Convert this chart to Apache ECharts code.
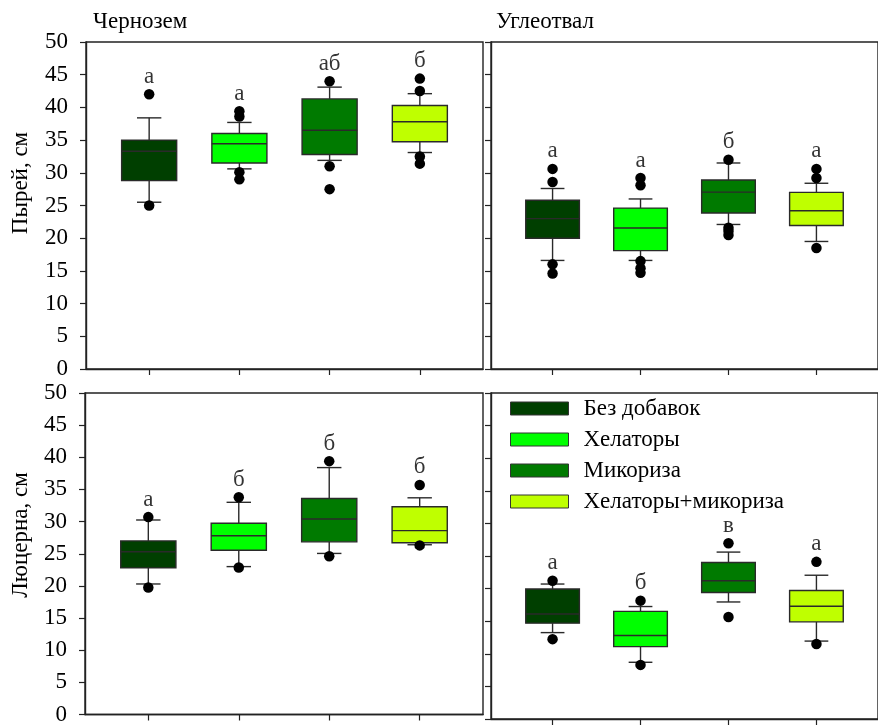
<!DOCTYPE html>
<html>
<head>
<meta charset="utf-8">
<script src="https://cdn.jsdelivr.net/npm/echarts@6/dist/echarts.min.js"></script>
<style>
html,body{margin:0;padding:0;background:#fff;}
#chart{width:878px;height:726px;}
</style>
</head>
<body>
<div id="chart"></div>
<script>
// ---- Data ----
const treatments = ['Без добавок', 'Хелаторы', 'Микориза', 'Хелаторы+микориза'];
const treatmentColors = ['#003f00', '#00ff00', '#007a00', '#bfff00'];
const xPositions = [1, 2, 3, 4];
const soilTitles = ['Чернозем', 'Углеотвал'];
const plantTitles = ['Пырей, см', 'Люцерна, см'];
const yTickMin = 0, yTickMax = 50, yTickStep = 5;

// box rows: [lower whisker, Q1, median, Q3, upper whisker]
const pyreyChernozemBoxes = [
  [25.5, 28.8, 33.3, 35.0, 38.4],
  [30.6, 31.5, 34.45, 36.0, 37.7],
  [31.9, 32.8, 36.5, 41.3, 43.1],
  [33.1, 34.75, 37.8, 40.3, 42.1]
];
const pyreyChernozemOutliers = [[42.0, 25.0], [39.4, 38.6, 30.1, 29.0], [44.0, 31.0, 27.5], [44.4, 42.5, 32.5, 31.4]];
const pyreyChernozemLetters = ['а', 'а', 'аб', 'б'];

const pyreyUgleotvalBoxes = [
  [16.6, 20.0, 23.0, 25.8, 27.6],
  [16.6, 18.1, 21.55, 24.6, 26.0],
  [22.1, 23.85, 27.05, 28.9, 31.5],
  [19.5, 21.95, 24.2, 27.0, 28.4]
];
const pyreyUgleotvalOutliers = [[30.6, 28.6, 16.0, 14.6], [29.2, 28.1, 16.5, 15.4, 14.7], [32.0, 21.6, 21.1, 20.5], [30.6, 29.2, 18.5]];
const pyreyUgleotvalLetters = ['а', 'а', 'б', 'а'];

const lyucernaChernozemBoxes = [
  [20.3, 22.8, 25.3, 27.0, 30.25],
  [23.0, 25.55, 27.8, 29.75, 33.0],
  [25.05, 26.85, 30.4, 33.6, 38.4],
  [26.4, 26.7, 28.6, 32.3, 33.7]
];
const lyucernaChernozemOutliers = [[30.7, 19.75], [33.8, 22.85], [39.4, 24.6], [35.7, 26.3]];
const lyucernaChernozemLetters = ['а', 'б', 'б', 'б'];

const lyucernaUgleotvalBoxes = [
  [13.25, 14.7, 16.1, 19.95, 20.7],
  [8.7, 11.1, 12.8, 16.5, 17.25],
  [17.95, 19.4, 21.2, 24.0, 25.6],
  [11.95, 14.9, 17.3, 19.7, 22.05]
];
const lyucernaUgleotvalOutliers = [[21.2, 12.25], [18.15, 8.3], [26.95, 15.65], [24.1, 11.5]];
const lyucernaUgleotvalLetters = ['а', 'б', 'в', 'а'];

// ---- Layout ----
const FONT = '"Liberation Serif", "Times New Roman", serif';
const FS = 23;
const panels = [
  {boxes: pyreyChernozemBoxes, outliers: pyreyChernozemOutliers, letters: pyreyChernozemLetters, grid: {left: 86, top: 42, width: 397, height: 327}, labels: true},
  {boxes: pyreyUgleotvalBoxes, outliers: pyreyUgleotvalOutliers, letters: pyreyUgleotvalLetters, grid: {left: 491, top: 42, width: 397, height: 327}, labels: false},
  {boxes: lyucernaChernozemBoxes, outliers: lyucernaChernozemOutliers, letters: lyucernaChernozemLetters, grid: {left: 85, top: 393, width: 398, height: 326}, labels: true},
  {boxes: lyucernaUgleotvalBoxes, outliers: lyucernaUgleotvalOutliers, letters: lyucernaUgleotvalLetters, grid: {left: 491, top: 393, width: 397, height: 326}, labels: false}
];

function renderBox(params, api) {
  const x = api.value(0);
  const lo = api.coord([x, api.value(1)]);
  const q1 = api.coord([x, api.value(2)]);
  const md = api.coord([x, api.value(3)]);
  const q3 = api.coord([x, api.value(4)]);
  const hi = api.coord([x, api.value(5)]);
  const bw = api.size([0.61, 0])[0];
  const cw = api.size([0.27, 0])[0];
  const cx = lo[0];
  const line = {stroke: '#2a2a2a', lineWidth: 1.4};
  const color = api.visual('color');
  return {
    type: 'group',
    children: [
      {type: 'line', shape: {x1: cx, y1: hi[1], x2: cx, y2: q3[1]}, style: line},
      {type: 'line', shape: {x1: cx, y1: q1[1], x2: cx, y2: lo[1]}, style: line},
      {type: 'line', shape: {x1: cx - cw / 2, y1: hi[1], x2: cx + cw / 2, y2: hi[1]}, style: line},
      {type: 'line', shape: {x1: cx - cw / 2, y1: lo[1], x2: cx + cw / 2, y2: lo[1]}, style: line},
      {type: 'rect', shape: {x: cx - bw / 2, y: q3[1], width: bw, height: q1[1] - q3[1]}, style: {fill: color, stroke: '#2a2a2a', lineWidth: 1.4}},
      {type: 'line', shape: {x1: cx - bw / 2, y1: md[1], x2: cx + bw / 2, y2: md[1]}, style: line}
    ]
  };
}

const grids = [], xAxes = [], yAxes = [], series = [];
panels.forEach((p, i) => {
  grids.push(Object.assign({show: true, borderColor: '#222', borderWidth: 1.4, backgroundColor: 'transparent'}, p.grid));
  xAxes.push({
    type: 'value', gridIndex: i, min: 0.3, max: 4.7,
    axisLine: {show: true, lineStyle: {color: '#222', width: 1.4}},
    axisTick: {show: true, customValues: xPositions, length: 6, lineStyle: {color: '#222', width: 1.2}},
    axisLabel: {show: false}, splitLine: {show: false}
  });
  yAxes.push({
    type: 'value', gridIndex: i, min: yTickMin, max: yTickMax, interval: yTickStep,
    axisLine: {show: true, lineStyle: {color: '#222', width: 1.4}},
    axisTick: {show: true, length: 6, lineStyle: {color: '#222', width: 1.2}},
    axisLabel: {show: p.labels, fontSize: FS, fontFamily: FONT, color: '#000', margin: 18},
    splitLine: {show: false}
  });
  treatments.forEach((t, k) => {
    series.push({
      type: 'custom', name: t, xAxisIndex: i, yAxisIndex: i,
      itemStyle: {color: treatmentColors[k]},
      renderItem: renderBox,
      encode: {x: 0, y: [1, 2, 3, 4, 5]},
      data: [[xPositions[k]].concat(p.boxes[k])],
      z: 2, silent: true
    });
  });
  const outData = [];
  p.outliers.forEach((arr, k) => arr.forEach(v => outData.push([xPositions[k], v])));
  series.push({
    type: 'scatter', xAxisIndex: i, yAxisIndex: i, symbolSize: 10.5,
    itemStyle: {color: '#000', opacity: 1}, data: outData, z: 5, silent: true
  });
  const letterData = p.letters.map((l, k) => {
    const top = Math.max(p.boxes[k][4], ...p.outliers[k]);
    return {value: [xPositions[k], top], name: l};
  });
  series.push({
    type: 'scatter', xAxisIndex: i, yAxisIndex: i, symbolSize: 10,
    itemStyle: {color: 'transparent'}, data: letterData, z: 6, silent: true,
    label: {show: true, position: 'top', distance: 1, formatter: '{b}', fontSize: FS, fontFamily: FONT, color: '#000'}
  });
});

const option = {
  backgroundColor: '#fff',
  animation: false,
  title: [
    {text: soilTitles[0], left: 88, top: 5, textStyle: {fontSize: FS, fontWeight: 'normal', fontFamily: FONT, color: '#000'}},
    {text: soilTitles[1], left: 491, top: 5, textStyle: {fontSize: FS, fontWeight: 'normal', fontFamily: FONT, color: '#000'}}
  ],
  legend: {
    orient: 'vertical', left: 505, top: 392, itemWidth: 58, itemHeight: 13, itemGap: 8,
    icon: 'rect', selectedMode: false, data: treatments,
    itemStyle: {borderColor: '#333', borderWidth: 1},
    textStyle: {fontSize: FS, fontFamily: FONT, color: '#000', padding: [0, 0, 0, 10]}
  },
  grid: grids, xAxis: xAxes, yAxis: yAxes, series: series,
  graphic: [
    {type: 'text', x: 21, y: 183, rotation: Math.PI / 2, style: {text: plantTitles[0], font: FS + 'px ' + FONT, fill: '#000', align: 'center', verticalAlign: 'middle'}},
    {type: 'text', x: 21, y: 535, rotation: Math.PI / 2, style: {text: plantTitles[1], font: FS + 'px ' + FONT, fill: '#000', align: 'center', verticalAlign: 'middle'}}
  ]
};
const chart = echarts.init(document.getElementById('chart'), null, {renderer: 'canvas'});
chart.setOption(option);
</script>
</body>
</html>
